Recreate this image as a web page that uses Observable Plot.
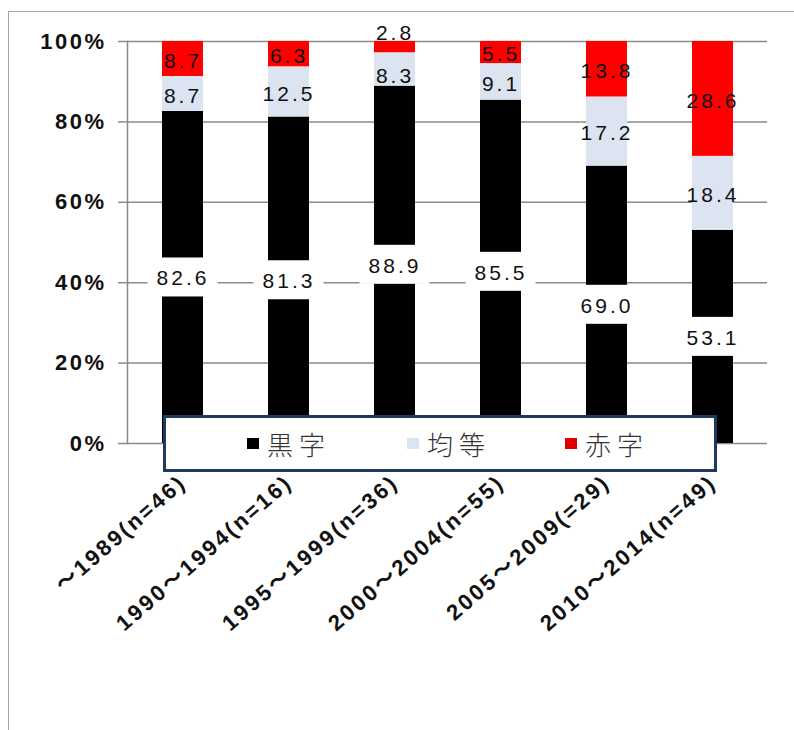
<!DOCTYPE html>
<html>
<head>
<meta charset="utf-8">
<script src="https://cdn.jsdelivr.net/npm/d3@7"></script>
<script src="https://cdn.jsdelivr.net/npm/@observablehq/plot@0.6"></script>
<style>
  html, body { margin: 0; padding: 0; background: #fff; overflow: hidden; }
  #wrap { position: relative; width: 794px; height: 730px; }
  #outer { position: absolute; left: 8px; top: 11px; width: 900px; height: 900px; border: 1.5px solid #a6a6a6; box-sizing: border-box; }
  #chart { position: absolute; left: 0; top: 0; }
  #chart svg { font-family: "Liberation Sans", Arial, "Noto Sans CJK JP", sans-serif; }
  #chart svg text { letter-spacing: 3px; }
  #chart g[aria-label="y-axis tick label"] text { font-weight: bold; font-size: 22px; letter-spacing: 2.5px; fill: #111; }
  #chart g[aria-label="x-axis tick label"] text { font-weight: bold; font-size: 22px; letter-spacing: 2.6px; fill: #111; }
  #legend { position: absolute; left: 163px; top: 415px; width: 554px; height: 57px; box-sizing: border-box;
            border: 3px solid #1f3a5c; background: #fff; font-family: "Noto Sans CJK JP", sans-serif; }
  .item { position: absolute; top: 0; height: 51px; display: flex; align-items: center; }
  .sw { width: 12px; height: 11px; margin-right: 8px; }
  .lb { font-size: 26px; letter-spacing: 6px; color: #333; font-weight: 300; }
</style>
</head>
<body>
<div id="wrap">
  <div id="outer"></div>
  <div id="chart"></div>
  <div id="legend"></div>
</div>
<script>
// ---- data ----
const categories = ["～1989(n=46)", "1990～1994(n=16)", "1995～1999(n=36)", "2000～2004(n=55)", "2005～2009(=29)", "2010～2014(n=49)"];
const series = ["黒字", "均等", "赤字"];
const kuroji = [82.6, 81.3, 88.9, 85.5, 69.0, 53.1];
const kintou = [8.7, 12.5, 8.3, 9.1, 17.2, 18.4];
const akaji  = [8.7, 6.3, 2.8, 5.5, 13.8, 28.6];
const yTicks = [0, 20, 40, 60, 80, 100];
const colors = ["#000000", "#dbe4f0", "#ff0000"];

// ---- build stacked rows (normalized to 100%) ----
const valuesBySeries = [kuroji, kintou, akaji];
const rows = [];
categories.forEach((cat, i) => {
  const total = valuesBySeries.reduce((s, arr) => s + arr[i], 0);
  let acc = 0;
  series.forEach((s, j) => {
    const v = valuesBySeries[j][i];
    const y1 = acc / total * 100;
    acc += v;
    const y2 = acc / total * 100;
    rows.push({cat, series: s, value: v, y1, y2, mid: (y1 + y2) / 2, idx: j, ci: i});
  });
});
const thin = d => d.value < 4;
const belowThin = d => {
  const next = rows.find(r => r.ci === d.ci && r.idx === d.idx + 1);
  return !!next && thin(next);
};
const blackRows = rows.filter(d => d.idx === 0);
const otherRows = rows.filter(d => d.idx !== 0 && !thin(d) && !belowThin(d));
const pushedRows = rows.filter(d => d.idx !== 0 && !thin(d) && belowThin(d));
const thinRows = rows.filter(d => d.idx !== 0 && thin(d));

const plot = Plot.plot({
  width: 794,
  height: 730,
  marginTop: 41,
  marginLeft: 127,
  marginRight: 27,
  marginBottom: 287,
  x: {domain: categories, paddingInner: 0.615, paddingOuter: 0.3075, label: null},
  y: {domain: [0, 100], label: null},
  color: {domain: series, range: colors},
  marks: [
    Plot.gridY(yTicks, {stroke: "#8a8a8a", strokeOpacity: 1, strokeWidth: 1.5}),
    Plot.frame({anchor: "left", stroke: "#8a8a8a", strokeWidth: 1.5}),
    Plot.axisY(yTicks, {tickFormat: d => d + "%", tickSize: 9, tickPadding: 12, stroke: "#8a8a8a", strokeWidth: 1.5, label: null}),
    Plot.axisX({tickSize: 0, tickRotate: -41, tickPadding: 36, label: null}),
    Plot.barY(rows, {x: "cat", y1: "y1", y2: "y2", fill: "series"}),
    // white label boxes on the black segments
    Plot.barY(blackRows, {x: "cat", y1: d => d.mid - 4.85, y2: d => d.mid + 4.85, fill: "white", insetLeft: -14.5, insetRight: -14.5}),
    Plot.text(blackRows, {x: "cat", y: "mid", text: d => d.value.toFixed(1), fill: "#111", fontSize: 21, dy: 1}),
    Plot.text(otherRows, {x: "cat", y: "mid", text: d => d.value.toFixed(1), fill: "#111", fontSize: 21, dy: 2}),
    Plot.text(pushedRows, {x: "cat", y: "mid", text: d => d.value.toFixed(1), fill: "#111", fontSize: 21, dy: 7}),
    Plot.text(thinRows, {x: "cat", y: "y2", text: d => d.value.toFixed(1), fill: "#111", fontSize: 21, dy: -8})
  ]
});
document.getElementById("chart").appendChild(plot);

// ---- legend ----
const color = plot.scale("color");
const legend = document.getElementById("legend");
const itemLeft = [81, 241, 399];
series.forEach((s, j) => {
  const it = document.createElement("div");
  it.className = "item";
  it.style.left = itemLeft[j] + "px";
  const sw = document.createElement("div");
  sw.className = "sw";
  sw.style.background = j === 2 ? "#e00000" : color.apply(s);
  const lb = document.createElement("span");
  lb.className = "lb";
  lb.textContent = s;
  it.appendChild(sw); it.appendChild(lb);
  legend.appendChild(it);
});
</script>
</body>
</html>
